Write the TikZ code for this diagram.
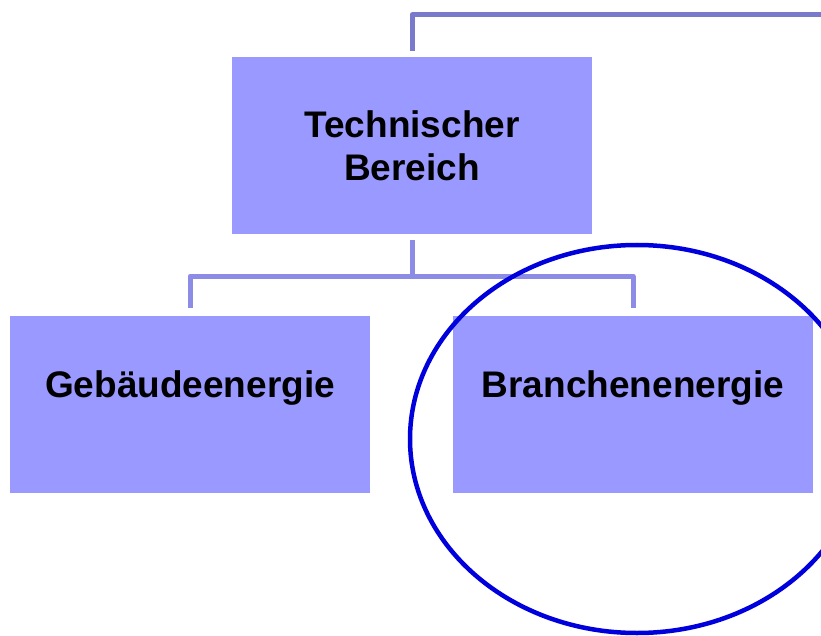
\documentclass[tikz,border=0pt]{standalone}
\usepackage{fontspec}
\setmainfont{Liberation Sans}
\definecolor{boxfill}{RGB}{153,153,255}
\definecolor{connline}{RGB}{140,140,230}
\definecolor{topline}{RGB}{122,122,204}
\definecolor{ringblue}{RGB}{0,0,220}
\tikzset{
  orgbox/.style={fill=boxfill, minimum width=360pt, minimum height=177pt, inner sep=0pt,
    align=center, font=\fontsize{37}{43}\selectfont\bfseries},
  leafbox/.style={orgbox, text height=27pt, text depth=41pt},
  conn/.style={line width=5pt, color=connline, line join=round},
}

\begin{document}
\begin{tikzpicture}[x=1pt, y=-1pt]
		%%%%% START %%%%%
		\clip (0,0) rectangle (821,636);
		
		\node[orgbox] (tech) at (412,145.5) {Technischer\\Bereich};
		\node[leafbox] (gebaeude) at (190,404) {Gebäudeenergie};
		\node[leafbox] (branche) at (633,404) {Branchenenergie};
		
		% line to the level above
		\coordinate (exit) at (821,15);
		\draw[conn, color=topline] ([yshift=6pt]tech.north) |- (exit);
		
		% fork to the two areas
		\draw[conn] ([yshift=-6pt]tech.south) -- ++(0,36) coordinate (fork);
		\draw[conn] ([yshift=7pt]gebaeude.north) |- (fork) -| ([yshift=7pt]branche.north);
		
		\draw[line width=4.5pt, color=ringblue] (637,439) ellipse [x radius=227pt, y radius=194pt];
		%%%%% END %%%%%
\end{tikzpicture}
\end{document}
